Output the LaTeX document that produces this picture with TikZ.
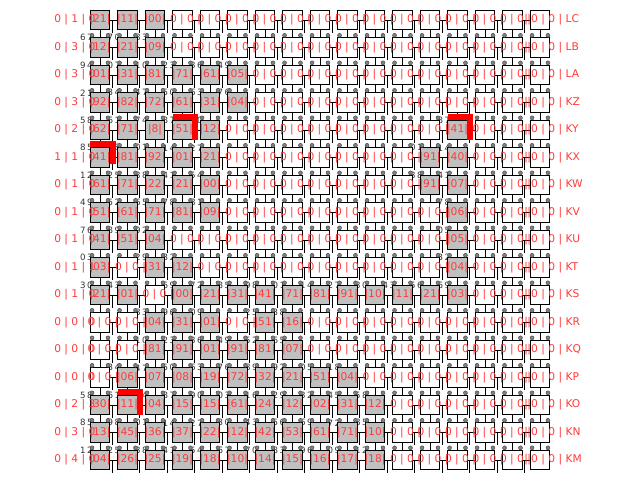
\documentclass[tikz,border=0pt]{standalone}
\usepackage{fontspec}
\setmainfont{DejaVu Sans}
\usetikzlibrary{calc}
\pgfdeclarelayer{bg}\pgfdeclarelayer{fg}
\pgfsetlayers{bg,main,fg}
\definecolor{lblred}{HTML}{FF3B3B}
\definecolor{cellgray}{HTML}{C0C0C0}
\definecolor{dotgray}{HTML}{808080}
\definecolor{dotedge}{HTML}{404040}
\definecolor{numgray}{HTML}{333333}
\begin{document}
\begin{tikzpicture}[x=0.75pt,y=-0.75pt,
 cellw/.style={draw=black,fill=white,line width=0.75pt,minimum size=14.5pt,inner sep=0pt,outer sep=0pt},
 cellg/.style={cellw,fill=cellgray},
 conn/.style={draw=black,line width=0.7pt},
 rlab/.style={text=lblred,font=\fontsize{8}{9.5}\selectfont,inner sep=0pt},
 dlab/.style={text=numgray,font=\fontsize{6.5}{8}\selectfont,inner sep=0pt},
 hl/.style={draw=red,line width=4.5pt,line join=miter},
 dotc/.style={fill=dotgray,draw=dotedge,line width=0.3pt}]
\useasboundingbox (0,0) rectangle (640,480);

\foreach \r/\gt/\ll/\rn in {
 0/{0/21,1/11,2/00}/{0 | 1 | 0}/LC,
 1/{0/12,1/21,2/09}/{0 | 3 | 0}/LB,
 2/{0/01,1/31,2/81,3/71,4/61,5/05}/{0 | 3 | 0}/LA,
 3/{0/92,1/82,2/72,3/61,4/31,5/04}/{0 | 3 | 0}/KZ,
 4/{0/62,1/71,2/8,3/51,4/12,13/41}/{0 | 2 | 0}/KY,
 5/{0/41,1/81,2/92,3/01,4/21,12/91,13/40}/{1 | 1 | 0}/KX,
 6/{0/61,1/71,2/22,3/21,4/00,12/91,13/07}/{0 | 1 | 0}/KW,
 7/{0/51,1/61,2/71,3/81,4/09,13/06}/{0 | 1 | 0}/KV,
 8/{0/41,1/51,2/04,13/05}/{0 | 1 | 0}/KU,
 9/{0/03,2/31,3/12,13/04}/{0 | 1 | 1}/KT,
 10/{0/21,1/01,3/00,4/21,5/31,6/41,7/71,8/81,9/91,10/10,11/11,12/21,13/03}/{0 | 1 | 0}/KS,
 11/{2/04,3/31,4/01,6/51,7/16}/{0 | 0 | 0}/KR,
 12/{2/81,3/91,4/01,5/91,6/81,7/07}/{0 | 0 | 0}/KQ,
 13/{1/06,2/07,3/08,4/19,5/72,6/32,7/21,8/51,9/04}/{0 | 0 | 0}/KP,
 14/{0/30,1/11,2/04,3/15,4/15,5/61,6/24,7/12,8/02,9/31,10/12}/{0 | 2 | 3}/KO,
 15/{0/13,1/45,2/36,3/37,4/22,5/12,6/42,7/53,8/61,9/71,10/10}/{0 | 3 | 0}/KN,
 16/{0/04,1/26,2/25,3/19,4/18,5/10,6/14,7/15,8/16,9/17,10/18}/{0 | 4 | 0}/KM}{
  \foreach \c in {0,...,16}{
    \gdef\isg{0}
    \foreach \g/\t in \gt {\ifnum\g=\c\relax\gdef\isg{1}\fi}
    \ifnum\isg=1\relax
      \node[cellg] (n-\r-\c) at ({100+27.5*\c},{20+27.5*\r}) {};
    \else
      \node[cellw] (n-\r-\c) at ({100+27.5*\c},{20+27.5*\r}) {};
      \ifnum\c<16\relax
        \begin{pgfonlayer}{fg}
        \node[rlab] (w-\r-\c) at ($(n-\r-\c)+(3,0)$) {0 | 0 |};
        \end{pgfonlayer}
      \fi
    \fi
  }
  \begin{pgfonlayer}{fg}
  \foreach \g/\t in \gt {\node[rlab] (t-\r-\g) at (n-\r-\g) {|\t|};}
  \node[rlab,anchor=west] (L\r) at (54,{20+27.5*\r}) {\ll};
  \node[rlab,anchor=west] (R\r) at (524,{20+27.5*\r}) {| 0 | 0 | \rn};
  \end{pgfonlayer}
  \ifnum\r>0\relax
  \begin{pgfonlayer}{bg}
  \foreach \g/\t in \gt {
    \pgfmathtruncatemacro\da{mod(3*\r+\g+3,10)}
    \pgfmathtruncatemacro\db{mod(7*\r+3*\g,10)}
    \node[dlab] (d-\r-\g) at ($(n-\r-\g.north west)+(-4,0)$) {\da\,\db};
  }
  \end{pgfonlayer}
  \fi
}

% connectors
\foreach \r in {0,...,16}{
  \foreach \c in {0,...,16}{
    \pgfmathtruncatemacro\d{\c+1}
    \pgfmathtruncatemacro\s{\r+1}
    \ifnum\c<16\relax
      \draw[conn] (n-\r-\c.east) -- (n-\r-\d.west);
      \draw[conn] ($(n-\r-\c.east)+(2.5,0)$) -- ($(n-\r-\c.south east)+(2.5,3)$);
    \fi
    \ifnum\r<16\relax
      \draw[conn] (n-\r-\c.south) -- (n-\s-\c.north);
    \fi
    \ifnum\r>0\relax
      \fill[dotc] ($(n-\r-\c.north west)+(1.7,-2.5)$) circle (1.5pt);
      \fill[dotc] ($(n-\r-\c.north east)+(-1.7,-2.5)$) circle (1.5pt);
    \fi
  }
}

% highlighted edges
\begin{pgfonlayer}{fg}
\draw[hl] ($(n-4-3.north west)+(0,-3)$) -- ($(n-4-3.north east)+(3,-3)$) -- ($(n-4-3.south east)+(3,0)$);
\draw[hl] ($(n-5-0.north west)+(0,-3.5)$) -- ($(n-5-0.north east)+(3,-3.5)$) -- ($(n-5-0.south east)+(3,-3)$);
\draw[hl] ($(n-4-13.north west)+(0,-3)$) -- ($(n-4-13.north east)+(3,-3)$) -- ($(n-4-13.south east)+(3,0)$);
\draw[hl] ($(n-14-1.north west)+(0,-3)$) -- ($(n-14-1.north east)+(3,-3)$) -- ($(n-14-1.south east)+(3,0)$);
\end{pgfonlayer}
\end{tikzpicture}
\end{document}
